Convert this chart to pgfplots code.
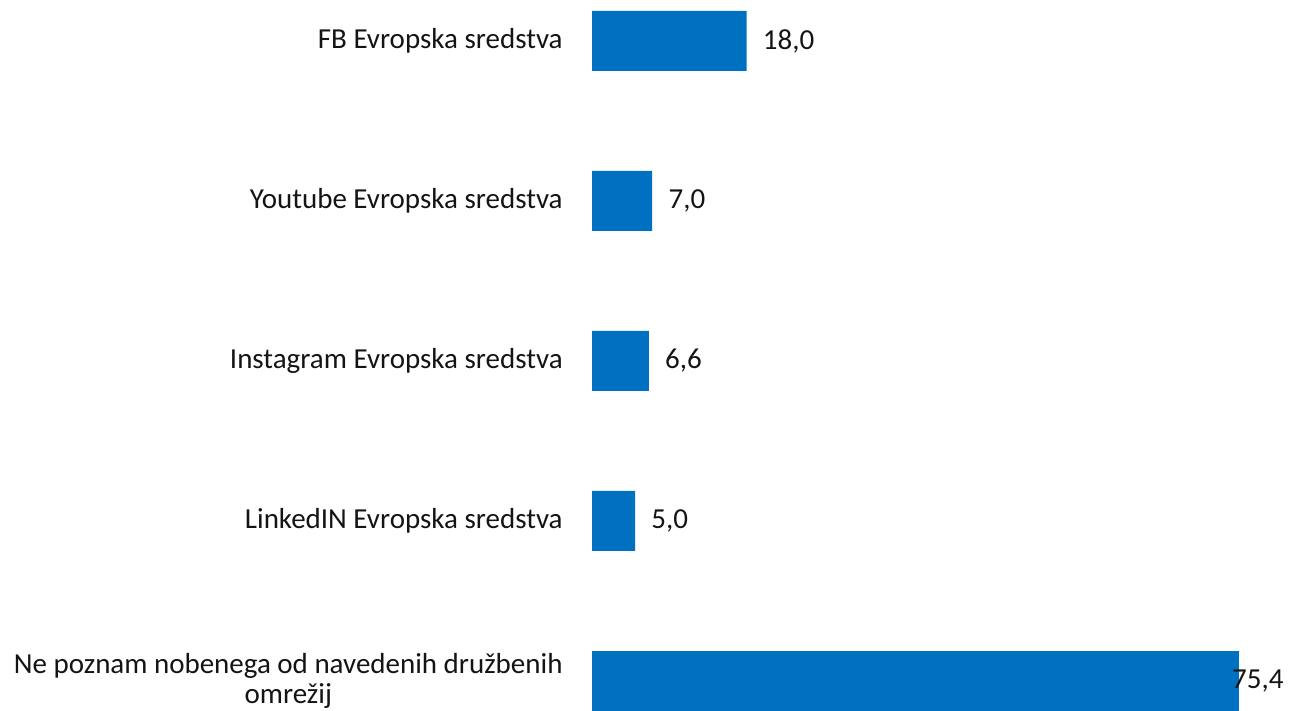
\documentclass[border=0pt]{standalone}
\usepackage{pgfplots}
\pgfplotsset{compat=1.18}
\usepackage{fontspec}
\setmainfont{Carlito}
\definecolor{barblue}{RGB}{0,112,192}
\definecolor{txt}{RGB}{20,20,20}
\begin{document}
\begin{tikzpicture}
\begin{axis}[
  xbar, scale only axis,
  width=348.35bp, height=355.5bp,
  xmin=0, xmax=81.23,
  ymin=-0.25625, ymax=4.1875, y dir=reverse,
  axis line style={draw=none},
  xtick=\empty,
  ytick={0,1,2,3,4},
  major tick length=0pt,
  yticklabels={FB Evropska sredstva, Youtube Evropska sredstva, Instagram Evropska sredstva, LinkedIN Evropska sredstva, {Ne poznam nobenega od navedenih družbenih\\omrežij}},
  yticklabel style={align=center, inner sep=0pt, xshift=-14.6bp, text=txt, font=\fontsize{14.5bp}{15bp}\selectfont},
  bar width=30bp, bar shift=0pt,
  clip=false,
  point meta=x,
  nodes near coords={\pgfmathprintnumber[fixed,fixed zerofill,precision=1,use comma,assume math mode=true]{\pgfplotspointmeta}},
  every node near coord/.append style={anchor=west, inner sep=0pt, xshift=8bp, text=txt, font=\fontsize{14.5bp}{15bp}\selectfont},
]
\addplot[fill=barblue, draw=none] coordinates {(18.0,0) (7.0,1) (6.6,2) (5.0,3)};
\addplot[fill=barblue, draw=none, every node near coord/.append style={xshift=-11.5bp}] coordinates {(75.4,4)};
\end{axis}
\path ([xshift=-296.15bp]current axis.south west) rectangle (current axis.north east);
\end{tikzpicture}
\end{document}
